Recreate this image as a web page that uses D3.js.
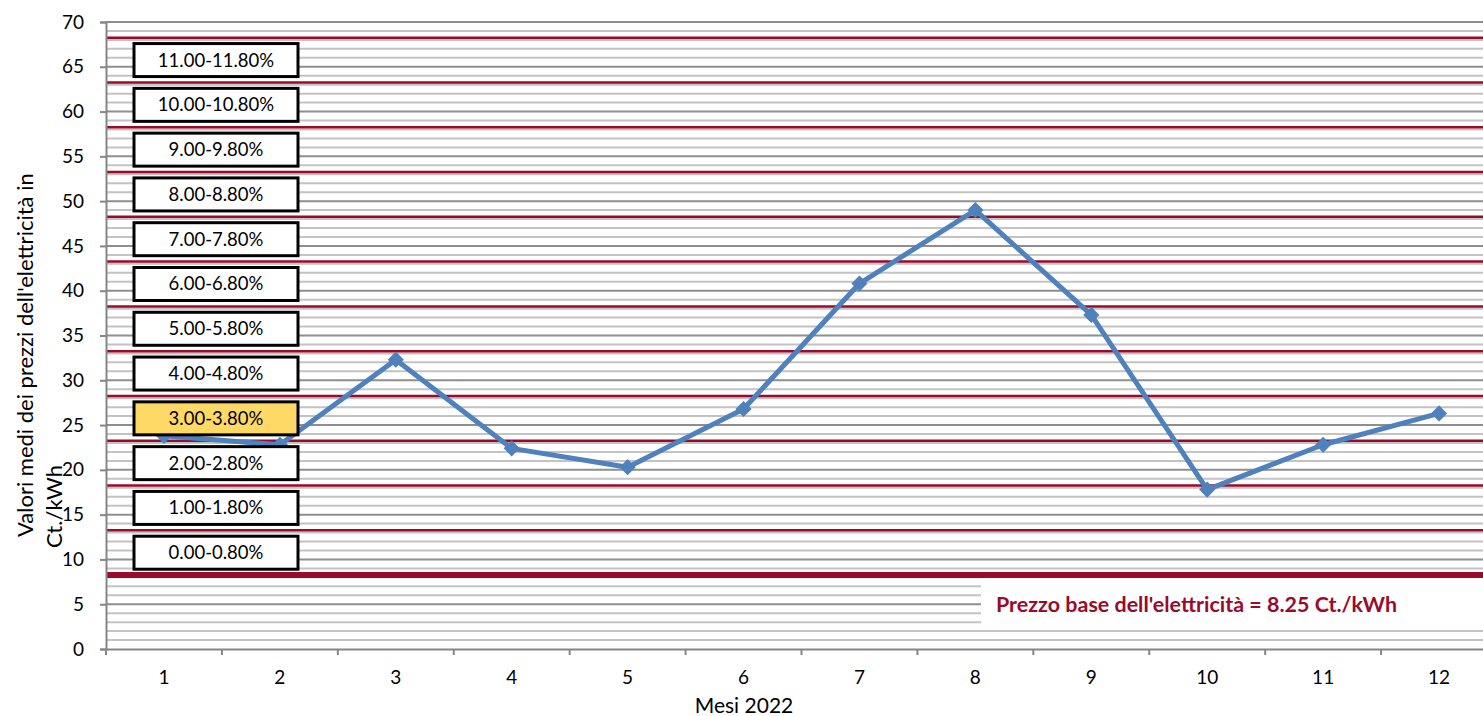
<!DOCTYPE html>
<html>
<head>
<meta charset="utf-8">
<script src="https://cdn.jsdelivr.net/npm/d3@7"></script>
<style>
  body { margin: 0; background: #fff; }
  svg { display: block; font-family: Lato, "Open Sans", sans-serif; }
</style>
</head>
<body>
<div id="chart"></div>
<script>
// data
const months = [1, 2, 3, 4, 5, 6, 7, 8, 9, 10, 11, 12];
const prices = [23.8, 22.8, 32.3, 22.4, 20.3, 26.8, 40.8, 49.0, 37.3, 17.8, 22.8, 26.3];
const yTicks = [0, 5, 10, 15, 20, 25, 30, 35, 40, 45, 50, 55, 60, 65, 70];
const basePrice = 8.25;
const bandLines = [8.25, 13.25, 18.25, 23.25, 28.25, 33.25, 38.25, 43.25, 48.25, 53.25, 58.25, 63.25, 68.25];
const bandLabels = ["0.00-0.80%", "1.00-1.80%", "2.00-2.80%", "3.00-3.80%", "4.00-4.80%", "5.00-5.80%",
    "6.00-6.80%", "7.00-7.80%", "8.00-8.80%", "9.00-9.80%", "10.00-10.80%", "11.00-11.80%"];
const activeBand = "3.00-3.80%";
const baseLabel = "Prezzo base dell'elettricità = 8.25 Ct./kWh";
const yTitle = ["Valori medi dei prezzi dell'elettricità in", "Ct./kWh"];
const xTitle = "Mesi 2022";

const W = 1483, H = 716;
const margin = { left: 106, top: 22, bottom: 649, right: 1497 }; // plot runs past the window edge

const x = d3.scaleBand().domain(months).range([margin.left, margin.right]);
const y = d3.scaleLinear().domain([0, 70]).range([margin.bottom, margin.top]);

const svg = d3.select('#chart').append('svg')
    .attr('width', W)
    .attr('height', H);

// minor gridlines every 1
svg.append('g').selectAll('line')
    .data(d3.range(1, 71).filter(v => v % 5 !== 0))
    .join('line')
    .attr('x1', margin.left).attr('x2', margin.right)
    .attr('y1', d => y(d)).attr('y2', d => y(d))
    .attr('stroke', '#c3c3c3').attr('stroke-width', 2);

// major gridlines
svg.append('g').selectAll('line')
    .data(yTicks.filter(v => v > 0))
    .join('line')
    .attr('x1', margin.left).attr('x2', margin.right)
    .attr('y1', d => y(d)).attr('y2', d => y(d))
    .attr('stroke', '#8e8e8e').attr('stroke-width', 2);

// red band lines
svg.append('g').selectAll('line')
    .data(bandLines)
    .join('line')
    .attr('x1', margin.left).attr('x2', margin.right)
    .attr('y1', d => y(d)).attr('y2', d => y(d))
    .attr('stroke', '#9a0a2b')
    .attr('stroke-width', d => d === basePrice ? 6 : 2.5);

// white box behind base price text
svg.append('rect')
    .attr('x', 981).attr('y', y(basePrice) + 3)
    .attr('width', W - 981).attr('height', 48)
    .attr('fill', '#fff');

svg.append('text')
    .attr('x', 996).attr('y', 612)
    .attr('fill', '#9a0a2b')
    .attr('font-weight', 'bold')
    .attr('font-size', 20)
    .attr('textLength', 401)
    .attr('lengthAdjust', 'spacingAndGlyphs')
    .text(baseLabel);

// axes
const yAxis = d3.axisLeft(y).tickValues(yTicks).tickSize(6).tickPadding(16);
const gy = svg.append('g').attr('transform', `translate(${margin.left},0)`).call(yAxis);
gy.select('.domain').attr('stroke', '#868686').attr('stroke-width', 2);
gy.selectAll('.tick line').attr('stroke', '#868686').attr('stroke-width', 2);
gy.selectAll('.tick text').attr('font-size', 19).attr('fill', '#000').attr('font-family', 'Lato');

const gx = svg.append('g').attr('transform', `translate(0,${margin.bottom})`)
    .call(d3.axisBottom(x).tickSize(0).tickPadding(22));
gx.select('.domain').attr('stroke', '#868686').attr('stroke-width', 2);
gx.selectAll('.tick text').attr('font-size', 19).attr('fill', '#000').attr('font-family', 'Lato');
// tick marks between the categories
gx.append('g').selectAll('line')
    .data(months)
    .join('line')
    .attr('x1', d => x(d)).attr('x2', d => x(d))
    .attr('y1', 0).attr('y2', 6)
    .attr('stroke', '#868686').attr('stroke-width', 2);

// series line
const line = d3.line()
    .x((d, i) => x(months[i]) + x.bandwidth() / 2)
    .y(d => y(d));

svg.append('path')
    .datum(prices)
    .attr('d', line)
    .attr('fill', 'none')
    .attr('stroke', '#4f81bd')
    .attr('stroke-width', 5)
    .attr('stroke-linejoin', 'round');

svg.append('g').selectAll('path')
    .data(prices)
    .join('path')
    .attr('d', d3.symbol(d3.symbolSquare, 130))
    .attr('transform', (d, i) => `translate(${x(months[i]) + x.bandwidth() / 2},${y(d)}) rotate(45)`)
    .attr('fill', '#4f81bd');

// interest rate boxes, drawn over the line
const boxes = svg.append('g').selectAll('g')
    .data(bandLabels)
    .join('g')
    .attr('transform', (d, i) => `translate(134,${y((bandLines[i] + bandLines[i + 1]) / 2)})`);

boxes.append('rect')
    .attr('x', 0).attr('y', -16.5)
    .attr('width', 164).attr('height', 33)
    .attr('fill', d => d === activeBand ? '#ffd966' : '#fff')
    .attr('stroke', '#000').attr('stroke-width', 3);

boxes.append('text')
    .attr('x', 82).attr('y', 6.5)
    .attr('text-anchor', 'middle')
    .attr('font-size', 18.5)
    .attr('fill', '#000')
    .text(d => d);

// axis titles
svg.append('text')
    .attr('x', 744).attr('y', 713)
    .attr('text-anchor', 'middle')
    .attr('font-size', 21)
    .text(xTitle);

const yTitleStart = [537, 548];
const yTitleBase = [33, 62];
svg.append('g')
    .selectAll('text')
    .data(yTitle)
    .join('text')
    .attr('transform', (d, i) => `translate(${yTitleBase[i]},${yTitleStart[i]}) rotate(-90)`)
    .attr('font-size', 22)
    .text(d => d);
</script>
</body>
</html>
